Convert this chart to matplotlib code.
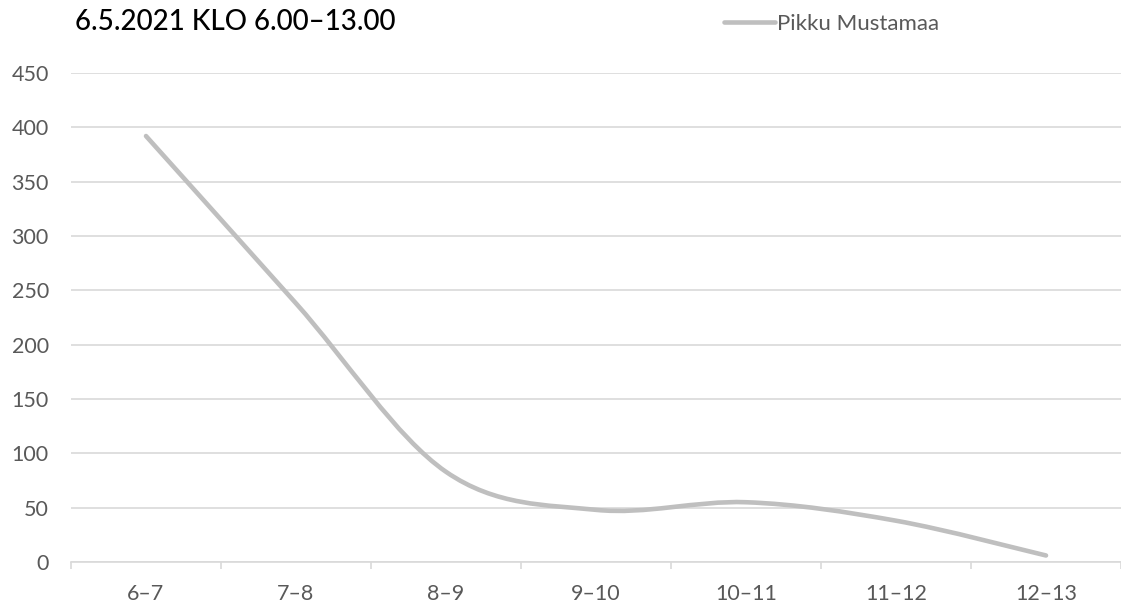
import numpy as np
import matplotlib.pyplot as plt
from matplotlib.path import Path
from matplotlib.patches import PathPatch
from matplotlib.lines import Line2D

# Data
hours = ['6–7', '7–8', '8–9', '9–10', '10–11', '11–12', '12–13']
counts = [392, 238, 83, 48, 55, 38, 6]
series_name = 'Pikku Mustamaa'
title = '6.5.2021 KLO 6.00–13.00'

plt.rcParams['font.family'] = ['Lato', 'DejaVu Sans']

fig = plt.figure(figsize=(11.21, 6.08), dpi=100)
ax = fig.add_axes([71 / 1121, 46 / 608, 1050 / 1121, 489 / 608])

# Excel-style smoothed line: cubic bezier between points
x = np.arange(len(counts), dtype=float)
y = np.array(counts, dtype=float)
verts = [(x[0], y[0])]
codes = [Path.MOVETO]
n = len(x)
for i in range(n - 1):
    p0 = np.array([x[max(i - 1, 0)], y[max(i - 1, 0)]])
    p1 = np.array([x[i], y[i]])
    p2 = np.array([x[i + 1], y[i + 1]])
    p3 = np.array([x[min(i + 2, n - 1)], y[min(i + 2, n - 1)]])
    c1 = p1 + (p2 - p0) / 6
    c2 = p2 - (p3 - p1) / 6
    verts += [tuple(c1), tuple(c2), tuple(p2)]
    codes += [Path.CURVE4] * 3
patch = PathPatch(Path(verts, codes), facecolor='none', edgecolor='#bfbfbf',
                  lw=3.3, capstyle='round', joinstyle='round', zorder=3)
ax.add_patch(patch)

ax.set_xlim(-0.5, len(hours) - 0.5)
ax.set_ylim(0, 450)
ax.set_yticks(range(0, 451, 50))
ax.set_xticks(x)
ax.set_xticklabels(hours)
ax.set_xticks(np.arange(-0.5, len(hours), 1), minor=True)

ax.grid(axis='y', color='#d9d9d9', lw=1.2)
ax.set_axisbelow(True)
for s in ['top', 'right', 'left']:
    ax.spines[s].set_visible(False)
ax.spines['bottom'].set_color('#d9d9d9')
ax.spines['bottom'].set_linewidth(1.2)

ax.tick_params(axis='y', length=0, pad=16, labelsize=15.5, labelcolor='#595959')
ax.tick_params(axis='x', which='major', length=0, pad=16, labelsize=15.5, labelcolor='#595959')
ax.tick_params(axis='x', which='minor', length=5, width=1.2, color='#d9d9d9')

fig.text(75 / 1121, 1 - 30 / 608, title, fontsize=20, color='black',
         ha='left', va='baseline', family=['Lato', 'DejaVu Sans'], fontweight='medium')

handle = Line2D([], [], color='#bfbfbf', lw=3.3, solid_capstyle='round')
fig.legend([handle], [series_name], loc='center left',
           bbox_to_anchor=(724 / 1121, 1 - 24 / 608), frameon=False,
           fontsize=16, labelcolor='#595959', handlelength=2.3, handletextpad=0.1,
           borderpad=0, borderaxespad=0)

fig.savefig('out.png', dpi=100)
